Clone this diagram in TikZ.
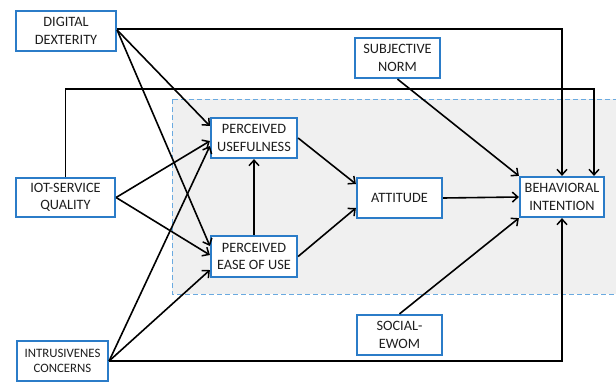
\documentclass[tikz,border=0pt]{standalone}
\usepackage{fontspec}
\setmainfont{Carlito}
\usetikzlibrary{arrows.meta}
\definecolor{boxblue}{HTML}{2B7CC8}
\definecolor{dashblue}{HTML}{6AAAE0}
\definecolor{bggray}{HTML}{F0F0F0}
\definecolor{txt}{HTML}{1E1E1E}
\begin{document}
\begin{tikzpicture}[x=1pt,y=-1pt,
  font=\fontsize{14.3}{17.6}\selectfont,
  box/.style={draw=boxblue, line width=2.2pt, fill=white, text=txt, align=center,
    inner sep=0pt, minimum height=40pt},
  conn/.style={line width=1.6pt, -{Straight Barb[length=5.5pt,width=10pt,line width=1.5pt]}}]
\useasboundingbox (0,0) rectangle (616,383);
\fill[white] (0,0) rectangle (616,383);
\draw[dashblue, fill=bggray, line width=0.9pt, dash pattern=on 5pt off 3pt] (172,99) rectangle (640,294);

\node[box, minimum width=100pt] (dd) at (66,31) {DIGITAL\\DEXTERITY};
\node[box, minimum width=85pt] (sn) at (397.5,58) {SUBJECTIVE\\NORM};
\node[box, minimum width=99pt, minimum height=39pt] (iot) at (65.5,197.5) {IOT-SERVICE\\QUALITY};
\node[box, minimum width=86pt] (pu) at (254,138) {PERCEIVED\\USEFULNESS};
\node[box, minimum width=86pt, minimum height=41pt] (peou) at (254,256.5) {PERCEIVED\\EASE OF USE};
\node[box, minimum width=85pt] (att) at (399.5,198) {ATTITUDE};
\node[box, minimum width=84pt] (bi) at (562,197) {BEHAVIORAL\\INTENTION};
\node[box, minimum width=85pt] (se) at (399.5,335) {SOCIAL-\\EWOM};
\node[box, minimum width=91pt, font=\fontsize{12.8}{15.5}\selectfont] (ic) at (62.5,361) {INTRUSIVENES\\CONCERNS};

\coordinate (upper) at (330,89);

% digital dexterity
\draw[conn] ([yshift=1pt]dd.east) -- ([yshift=12pt]pu.west);
\draw[conn] ([yshift=1pt]dd.east) -- ([yshift=10.5pt]peou.west);
\draw[conn] ([yshift=2pt]dd.east) -| (bi.north);
% iot-service quality
\draw[conn] (iot.east) -- ([yshift=-3pt]pu.west);
\draw[conn] (iot.east) -- ([yshift=1.5pt]peou.west);
\draw[conn] (iot.north) |- (upper) -| ([xshift=32pt]bi.north);
% intrusiveness concerns
\draw[conn] (ic.east) -- ([yshift=-8pt]pu.west);
\draw[conn] (ic.east) -- ([yshift=-13.5pt]peou.west);
\draw[conn] (ic.east) -| (bi.south);
% core model
\draw[conn] (peou.north) -- (pu.south);
\draw[conn] (pu.east) -- ([yshift=14pt]att.west);
\draw[conn] (peou.east) -- ([yshift=-10pt]att.west);
\draw[conn] (att.east) -- (bi.west);
\draw[conn] (sn.south) -- (bi.north west);
\draw[conn] (se.north) -- (bi.south west);
\end{tikzpicture}
\end{document}
